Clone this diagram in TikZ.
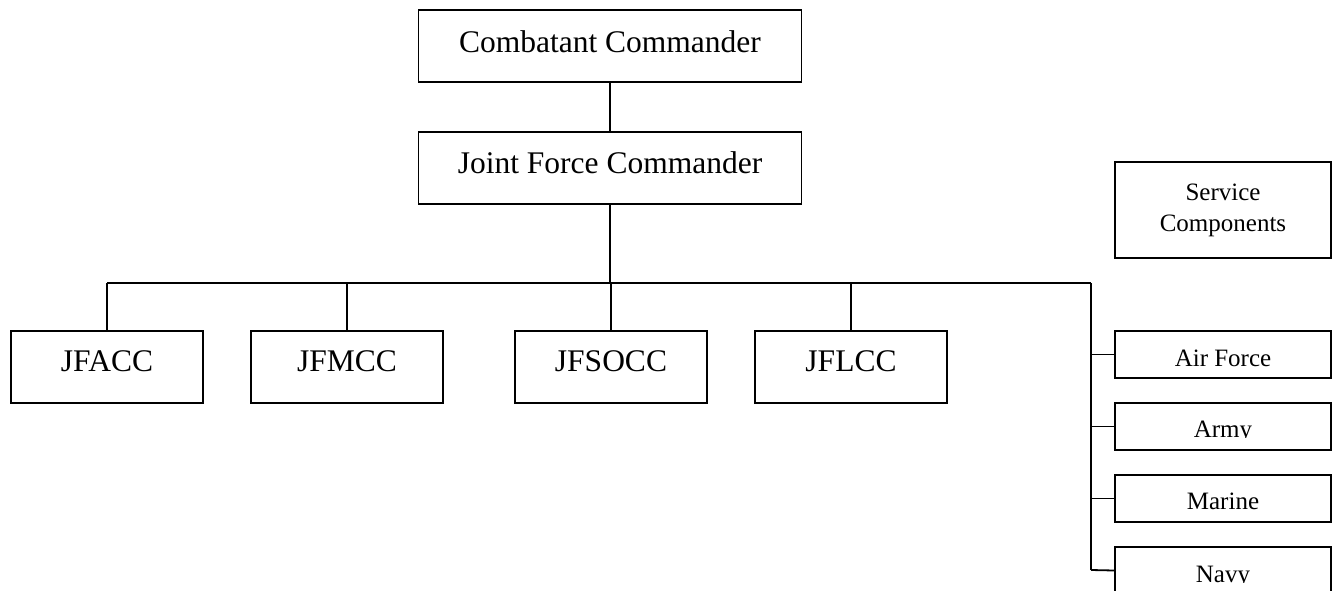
\documentclass[tikz,border=0pt]{standalone}
\usepackage{fontspec}
\setmainfont{Liberation Serif}
\begin{document}
\begin{tikzpicture}[x=1pt,y=-1pt,
  box/.style={draw=black,line width=1.9pt,rectangle,inner sep=0pt,fill=white},
  bigbox/.style={box,minimum width=383pt,minimum height=72pt},
  midbox/.style={box,minimum width=192pt,minimum height=72pt},
  smallbox/.style={box,minimum width=216pt,minimum height=47pt},
  bigtext/.style={anchor=base,inner sep=0pt,font=\fontsize{31.5}{36}\selectfont},
  smalltext/.style={anchor=base,inner sep=0pt,font=\fontsize{25}{31}\selectfont},
  conn/.style={draw=black,line width=1.8pt}]
\useasboundingbox (0,0) rectangle (1336,591);
\fill[white] (0,0) rectangle (1336,591);

% connector end points
\coordinate (busL) at (107,283);
\coordinate (busR) at (1091,283);
\coordinate (busM) at (610,283);
\coordinate (vEnd) at (1091,570);

% boxes
\node[bigbox] (cc) at (610,46) {};
\node[bigbox] (jfc) at (610,168) {};
\node[midbox] (jfacc) at (107,367) {};
\node[midbox] (jfmcc) at (347,367) {};
\node[midbox] (jfsocc) at (611,367) {};
\node[midbox] (jflcc) at (851,367) {};
\node[box,minimum width=216pt,minimum height=96pt,align=center,
      font=\fontsize{25}{31}\selectfont] (sc) at (1223,210) {Service\\Components};
\node[smallbox] (af) at (1223,354.5) {};
\node[smallbox] (army) at (1223,426.5) {};
\node[smallbox] (marine) at (1223,498.5) {};
\node[smallbox] (navy) at (1223,570.5) {};

\draw[conn] (cc.south) -- (jfc.north);
\draw[conn] (jfc.south) -- (busM);
\draw[conn] (busL) -- (busR);
\draw[conn] (busL) -- (jfacc.north);
\draw[conn] (jfmcc.north |- busL) -- (jfmcc.north);
\draw[conn] (jfsocc.north |- busL) -- (jfsocc.north);
\draw[conn] (jflcc.north |- busL) -- (jflcc.north);
\draw[conn] (busR) -- (vEnd);
\draw[conn] (busR |- af.west) -- (af.west);
\draw[conn] (busR |- army.west) -- (army.west);
\draw[conn] (busR |- marine.west) -- (marine.west);
\draw[conn] (vEnd) -- (navy.west);

% texts
\node[bigtext] (tcc) at ([yshift=-43pt]cc.north) {Combatant Commander};
\node[bigtext] (tjfc) at ([yshift=-42pt]jfc.north) {Joint Force Commander};
\node[bigtext] (tjfacc) at ([yshift=-41pt]jfacc.north) {JFACC};
\node[bigtext] (tjfmcc) at ([yshift=-41pt]jfmcc.north) {JFMCC};
\node[bigtext] (tjfsocc) at ([yshift=-41pt]jfsocc.north) {JFSOCC};
\node[bigtext] (tjflcc) at ([yshift=-41pt]jflcc.north) {JFLCC};

\begin{scope}
  \clip ([xshift=1pt]af.north west) rectangle ([yshift=-36.5pt,xshift=-1pt]af.north east);
  \node[smalltext] (taf) at ([yshift=-36.5pt]af.north) {Air Force};
\end{scope}
\begin{scope}
  \clip ([xshift=1pt]army.north west) rectangle ([yshift=-35.5pt,xshift=-1pt]army.north east);
  \node[smalltext] (tarmy) at ([yshift=-35.5pt]army.north) {Army};
\end{scope}
\begin{scope}
  \clip ([xshift=1pt]marine.north west) rectangle ([yshift=-35.5pt,xshift=-1pt]marine.north east);
  \node[smalltext] (tmarine) at ([yshift=-35.5pt]marine.north) {Marine};
\end{scope}
\begin{scope}
  \clip ([xshift=1pt]navy.north west) rectangle ([yshift=-36.5pt,xshift=-1pt]navy.north east);
  \node[smalltext] (tnavy) at ([yshift=-36.5pt]navy.north) {Navy};
\end{scope}
\end{tikzpicture}
\end{document}
